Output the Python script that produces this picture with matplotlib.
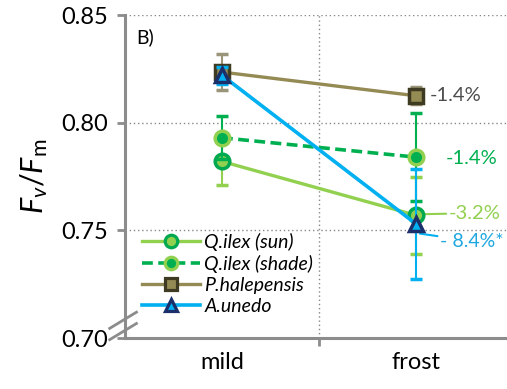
import matplotlib.pyplot as plt
from matplotlib.lines import Line2D
import numpy as np

plt.rcParams['font.family'] = ['Lato', 'DejaVu Sans']
plt.rcParams['mathtext.fontset'] = 'custom'
plt.rcParams['mathtext.it'] = 'Lato:italic'
plt.rcParams['mathtext.rm'] = 'Lato'

# data
periods = ['mild', 'frost']
sun = [0.782, 0.757]
sun_err = [0.011, 0.018]
shade = [0.793, 0.784]
shade_err = [0.010, 0.0205]
phal = [0.8235, 0.8125]
phal_err = [0.0085, 0.004]
aun = [0.822, 0.753]
aun_err = [0.004, 0.0255]
names = ['Q.ilex (sun)', 'Q.ilex (shade)', 'P.halepensis', 'A.unedo']
changes = ['-1.4%', '-1.4%', '-3.2%', '- 8.4%*']

grey = '#8c8c8c'
c_sun, c_sun_edge = '#92D050', '#00A850'
c_shade = '#00B050'
c_phal, c_phal_edge = '#948A54', '#3F3A22'
c_aun, c_aun_edge = '#00B0F0', '#1B2F6B'

styles = [
    dict(color=c_sun, lw=2.4, ls='-', marker='o', mfc=c_sun, mec=c_sun_edge),
    dict(color=c_shade, lw=2.6, ls=(0, (3, 1.5)), marker='o', mfc=c_shade, mec=c_sun),
    dict(color=c_phal, lw=2.4, ls='-', marker='s', mfc=c_phal, mec=c_phal_edge),
    dict(color=c_aun, lw=2.6, ls='-', marker='^', mfc=c_aun, mec=c_aun_edge),
]
ecolors = [c_sun, c_shade, '#9a9478', c_aun]

fig = plt.figure(figsize=(5.07, 3.89), dpi=100)
ax = fig.add_axes([0.2465, 0.131, 0.7535, 0.8304])
x = np.arange(len(periods))

handles = []
for i, (vals, errs) in enumerate([(sun, sun_err), (shade, shade_err),
                                  (phal, phal_err), (aun, aun_err)]):
    ax.errorbar(x, vals, yerr=errs, ms=10.5, mew=2.5, ecolor=ecolors[i],
                elinewidth=1.5, capsize=4, capthick=1.5, zorder=3 + i,
                **styles[i])
    handles.append(Line2D([], [], ms=9, mew=2.3, **styles[i]))

# change labels at frost
ax.text(1.07, 0.8125, changes[0], color='#4d4d4d', fontsize=14.5, va='center')
ax.text(1.155, 0.7836, changes[1], color=c_shade, fontsize=14.5, va='center')
ax.annotate(changes[2], xy=(1.03, 0.7575), xytext=(1.17, 0.758),
            color=c_sun, fontsize=14.5, va='center',
            arrowprops=dict(arrowstyle='-', color=c_sun, lw=1.5,
                            shrinkA=0, shrinkB=0))
ax.annotate(changes[3], xy=(1.02, 0.7485), xytext=(1.125, 0.745),
            color='#1FA8E0', fontsize=14, va='center',
            arrowprops=dict(arrowstyle='-', color=c_aun, lw=1.5,
                            shrinkA=0, shrinkB=0))

ax.text(0.03, 0.93, 'B)', transform=ax.transAxes, fontsize=14, va='center')

ax.set_xlim(-0.5, 1.469)
ax.set_ylim(0.70, 0.85)
ax.set_yticks([0.70, 0.75, 0.80, 0.85])
ax.set_yticklabels(['0.70', '0.75', '0.80', '0.85'], fontsize=17)
ax.set_xticks(x)
ax.set_xticklabels(periods, fontsize=17)
ax.set_xticks([0.5], minor=True)
ax.tick_params(axis='x', which='major', length=0, pad=10)
ax.tick_params(axis='x', which='minor', length=6, width=2, color=grey,
               direction='out')
ax.tick_params(axis='y', length=6, width=2, color=grey, direction='out', pad=6)

for s in ['top', 'right']:
    ax.spines[s].set_visible(False)
for s in ['left', 'bottom']:
    ax.spines[s].set_color(grey)
    ax.spines[s].set_linewidth(2.2)

ax.grid(axis='y', which='major', ls=(0, (1, 2)), color='#888888', lw=1)
ax.grid(axis='x', which='minor', ls=(0, (1, 2)), color='#888888', lw=1)
ax.set_axisbelow(True)

# axis break marks
for dy in [0.035, 0.0]:
    ax.plot([-0.04, 0.03], [dy - 0.005, dy + 0.045], transform=ax.transAxes,
            color=grey, lw=2, clip_on=False, zorder=10)

ax.set_ylabel(r'$F_v/F_{\mathrm{m}}$', fontsize=22, labelpad=8)

ax.legend(handles, names, loc='upper left', bbox_to_anchor=(0.045, 0.325),
          frameon=False, prop={'style': 'italic', 'size': 14},
          handlelength=3.0, labelspacing=0.2, handletextpad=0.2,
          borderaxespad=0.0, borderpad=0.0)

fig.savefig('out.png', dpi=100)
